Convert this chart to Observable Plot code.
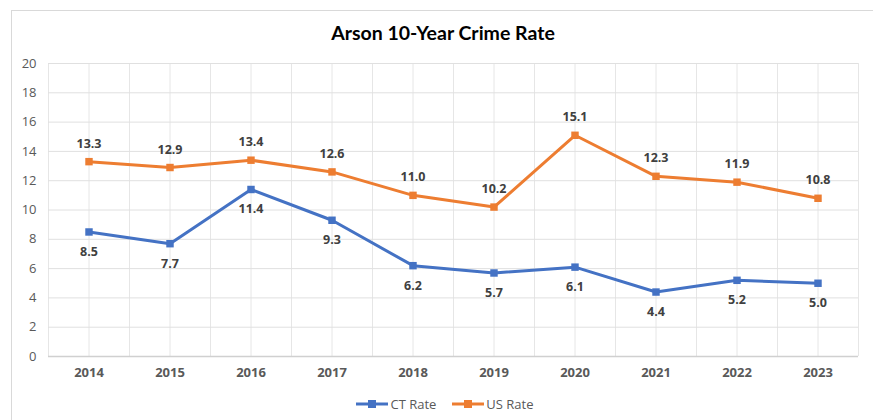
<!DOCTYPE html>
<html>
<head>
<meta charset="utf-8">
<script src="https://cdn.jsdelivr.net/npm/d3@7"></script>
<script src="https://cdn.jsdelivr.net/npm/@observablehq/plot@0.6"></script>
<style>
  body { margin: 0; background: #fff; font-family: "Open Sans", "Noto Sans", sans-serif; }
  #frame { position: absolute; left: 11px; top: 10px; width: 900px; height: 430px;
           border-left: 1px solid #d9d9d9; border-top: 1px solid #d9d9d9; }
  #title { position: absolute; left: 0; top: 21px; width: 886px; text-align: center;
           font-family: Lato, "Open Sans", sans-serif; font-weight: 700; font-size: 19.5px; color: #000; }
  #chart { position: absolute; left: 0; top: 50px; }
  #legend { position: absolute; left: 0; top: 395px; width: 890px; display: flex; justify-content: center;
            gap: 16px; font-size: 13px; color: #595959; font-family: "Open Sans", sans-serif; }
  .item { display: flex; align-items: center; gap: 2px; }
</style>
</head>
<body>
<div id="frame"></div>
<div id="title">Arson 10-Year Crime Rate</div>
<div id="chart"></div>
<div id="legend"></div>
<script>
const years = [2014, 2015, 2016, 2017, 2018, 2019, 2020, 2021, 2022, 2023];
const ctRate = [8.5, 7.7, 11.4, 9.3, 6.2, 5.7, 6.1, 4.4, 5.2, 5.0];
const usRate = [13.3, 12.9, 13.4, 12.6, 11.0, 10.2, 15.1, 12.3, 11.9, 10.8];
const yTicks = [0, 2, 4, 6, 8, 10, 12, 14, 16, 18, 20];
const seriesNames = ["CT Rate", "US Rate"];
const colors = ["#4472C4", "#ED7D31"];

const data = [];
years.forEach((yr, i) => {
  data.push({year: yr, value: ctRate[i], series: seriesNames[0]});
  data.push({year: yr, value: usRate[i], series: seriesNames[1]});
});
const ct = data.filter(d => d.series === seriesNames[0]);
const us = data.filter(d => d.series === seriesNames[1]);
const xGrid = d3.range(years[0] - 0.5, years[years.length - 1] + 0.51, 0.5);

const chart = Plot.plot({
  width: 873,
  height: 340,
  marginLeft: 48,
  marginRight: 15,
  marginTop: 13,
  marginBottom: 34,
  style: {fontFamily: "'Open Sans', sans-serif", background: "transparent"},
  x: {domain: [years[0] - 0.5, years[years.length - 1] + 0.5]},
  y: {domain: [0, 20]},
  color: {domain: seriesNames, range: colors},
  marks: [
    Plot.ruleX(xGrid, {stroke: "#e6e6e6", strokeWidth: 1}),
    Plot.ruleY(yTicks, {stroke: "#e0e0e0", strokeWidth: 1}),
    Plot.ruleY([0], {stroke: "#d0d0d0", strokeWidth: 1.5}),
    Plot.axisY({ticks: yTicks, tickSize: 0, tickPadding: 12, fontSize: 13, color: "#595959", label: null, tickFormat: d => d}),
    Plot.axisX({ticks: years, tickSize: 0, tickPadding: 11, fontSize: 13, fontWeight: 700, color: "#595959", label: null, tickFormat: d => String(d)}),
    Plot.line(data, {x: "year", y: "value", stroke: "series", z: "series", strokeWidth: 3}),
    Plot.dot(data, {x: "year", y: "value", fill: "series", symbol: "square", r: 4.2}),
    Plot.text(us, {x: "year", y: "value", text: d => d.value.toFixed(1), dy: -18, fontSize: 12.5, fontWeight: 700, fill: "#404040"}),
    Plot.text(ct, {x: "year", y: "value", text: d => d.value.toFixed(1), dy: 20, fontSize: 12.5, fontWeight: 700, fill: "#404040"})
  ]
});
document.getElementById("chart").appendChild(chart);

const legend = document.getElementById("legend");
seriesNames.forEach((name, i) => {
  const item = document.createElement("div");
  item.className = "item";
  item.innerHTML = `<svg width="32" height="10"><line x1="0" y1="5" x2="32" y2="5" stroke="${colors[i]}" stroke-width="3"/><rect x="12" y="1" width="8" height="8" fill="${colors[i]}"/></svg><span>${name}</span>`;
  legend.appendChild(item);
});
</script>
</body>
</html>
